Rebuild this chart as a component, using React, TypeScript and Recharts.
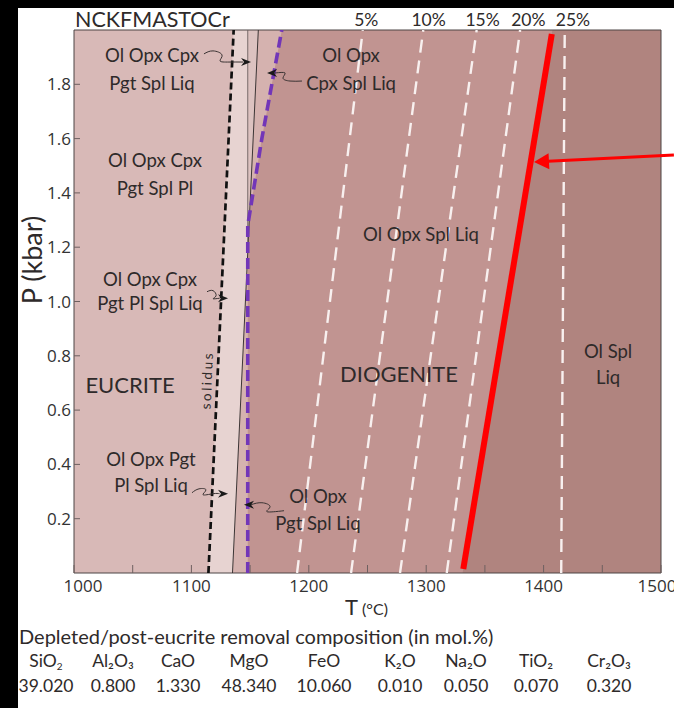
import React from 'react';
import {
  ComposedChart,
  Area,
  Line,
  XAxis,
  YAxis,
  ReferenceArea,
  ReferenceLine,
  ReferenceDot,
} from 'recharts';

type Pt = { p: number; t: number };

// P in kbar, T in °C
const xTicks = [1000, 1050, 1100, 1150, 1200, 1250, 1300, 1350, 1400, 1450, 1500];
const yTicks = [0.2, 0.4, 0.6, 0.8, 1.0, 1.2, 1.4, 1.6, 1.8];

// field boundaries
const plotEdge: Pt[] = [{ p: 0, t: 1500 }, { p: 2, t: 1500 }];
const redEdge: Pt[] = [{ p: 0, t: 1331 }, { p: 2, t: 1407.5 }];
const purpleEdge: Pt[] = [{ p: 0, t: 1148 }, { p: 1.28, t: 1148 }, { p: 1.6, t: 1160 }, { p: 2, t: 1177 }];
const thinEdge: Pt[] = [{ p: 0, t: 1135 }, { p: 2, t: 1157 }];
const lightEdge: Pt[] = [{ p: 0, t: 1135 }, { p: 1.18, t: 1148 }, { p: 2, t: 1148 }];
const solidus: Pt[] = [{ p: 0, t: 1114.5 }, { p: 2, t: 1136 }];
const cpxOut: Pt[] = [{ p: 1.18, t: 1148 }, { p: 2, t: 1148 }];
const redLine: Pt[] = [{ p: 0.015, t: 1331.6 }, { p: 1.985, t: 1407 }];

// melt fraction isopleths
const melt5: Pt[] = [{ p: 0, t: 1190 }, { p: 2, t: 1246 }];
const melt10: Pt[] = [{ p: 0, t: 1236 }, { p: 2, t: 1297.5 }];
const melt15: Pt[] = [{ p: 0, t: 1277.7 }, { p: 2, t: 1343 }];
const melt20: Pt[] = [{ p: 0, t: 1317.5 }, { p: 2, t: 1380 }];
const melt25: Pt[] = [{ p: 0, t: 1415 }, { p: 2, t: 1418 }];
const meltLabels = ['5%', '10%', '15%', '20%', '25%'];
const meltLabelT = [1249, 1302, 1348, 1387, 1425];
const meltLabelP = 2.037;

// leader squiggles
const leader1: Pt[] = [{ p: 1.912, t: 1110.7 }, { p: 1.923, t: 1118.4 }, { p: 1.908, t: 1126.1 }, { p: 1.886, t: 1124.4 }, { p: 1.882, t: 1132 }, { p: 1.882, t: 1144 }];
const leader2: Pt[] = [{ p: 1.812, t: 1194.2 }, { p: 1.812, t: 1184 }, { p: 1.823, t: 1178 }, { p: 1.842, t: 1179.7 }, { p: 1.842, t: 1172 }, { p: 1.842, t: 1169 }];
const leader3: Pt[] = [{ p: 1.036, t: 1113.3 }, { p: 1.04, t: 1118.4 }, { p: 1.021, t: 1121 }, { p: 1.01, t: 1118.4 }, { p: 1.012, t: 1124 }];
const leader4: Pt[] = [{ p: 0.2956, t: 1100.5 }, { p: 0.31, t: 1106.5 }, { p: 0.306, t: 1112.4 }, { p: 0.288, t: 1109.9 }, { p: 0.292, t: 1118.4 }, { p: 0.292, t: 1124 }];
const leader5: Pt[] = [{ p: 0.2515, t: 1150.8 }, { p: 0.2588, t: 1160.1 }, { p: 0.2441, t: 1167 }, { p: 0.2257, t: 1164.4 }, { p: 0.2294, t: 1178.9 }];
const arrowTips = [
  { t: 1150.8, p: 1.882, dir: 1 },
  { t: 1164.4, p: 1.842, dir: -1 },
  { t: 1131.2, p: 1.012, dir: 1 },
  { t: 1131.2, p: 0.292, dir: 1 },
  { t: 1144.8, p: 0.2515, dir: -1 },
];
const redArrowTail = { t: 1511, p: 1.54 };
const redArrowBase = { t: 1403.7, p: 1.517 };
const redArrowTip = { t: 1391.8, p: 1.514 };

const fieldNotes = [
  { lines: ['Ol Opx Cpx', 'Pgt Spl Liq'], t: 1066.4, p: 1.856, gap: 28 },
  { lines: ['Ol Opx', 'Cpx Spl Liq'], t: 1236, p: 1.856, gap: 28 },
  { lines: ['Ol Opx Cpx', 'Pgt Spl Pl'], t: 1069, p: 1.47, gap: 28 },
  { lines: ['Ol Opx Cpx', 'Pgt Pl Spl Liq'], t: 1064.7, p: 1.039, gap: 24 },
  { lines: ['Ol Opx Spl Liq'], t: 1295.6, p: 1.246, gap: 0 },
  { lines: ['Ol Spl', 'Liq'], t: 1454.9, p: 0.767, gap: 26 },
  { lines: ['Ol Opx Pgt', 'Pl Spl Liq'], t: 1065.6, p: 0.371, gap: 26 },
  { lines: ['Ol Opx', 'Pgt Spl Liq'], t: 1207.8, p: 0.231, gap: 27 },
];
const bigNotes = [
  { text: 'EUCRITE', t: 1047.7, p: 0.693 },
  { text: 'DIOGENITE', t: 1276.8, p: 0.734 },
];

const oxides = ['SiO', 'Al₂O₃', 'CaO', 'MgO', 'FeO', 'K₂O', 'Na₂O', 'TiO₂', 'Cr₂O₃'];
const molPercent = ['39.020', '0.800', '1.330', '48.340', '10.060', '0.010', '0.050', '0.070', '0.320'];
const columnX = [46, 113, 178, 249, 324, 400, 466, 536, 609];

const LABEL_FONT = "Lato, 'Noto Sans', sans-serif";
const TICK_FONT = "'Open Sans', 'DejaVu Sans', sans-serif";

const XTick = ({ x, y, payload }: any) => {
  const v = payload.value;
  const shift = v === 1000 ? 9 : v === 1500 ? -4 : 0;
  return (
    <g>
      <line x1={x} x2={x} y1={y} y2={y - 8} stroke="#6e6060" />
      {v % 100 === 0 && (
        <text x={x + shift} y={y + 19} textAnchor="middle" fontFamily={TICK_FONT} fontSize={17} fill="#333">
          {v}
        </text>
      )}
    </g>
  );
};

const YTick = ({ x, y, payload }: any) => (
  <g>
    <line x1={x} x2={x + 6} y1={y} y2={y} stroke="#6e6060" />
    <text x={x - 3} y={y + 6} textAnchor="end" fontFamily={TICK_FONT} fontSize={17} fill="#333">
      {payload.value.toFixed(1)}
    </text>
  </g>
);

const noteShape = (lines: string[], gap: number, size = 18.5) => (props: any) => {
  const { cx, cy } = props;
  const top = cy - ((lines.length - 1) * gap) / 2;
  return (
    <text textAnchor="middle" fontFamily={LABEL_FONT} fontSize={size} fill="#2e2a2a">
      {lines.map((s, i) => (
        <tspan key={i} x={cx} y={top + i * gap + size * 0.36}>
          {s}
        </tspan>
      ))}
    </text>
  );
};

const headShape = (dir: number) => (props: any) => {
  const { cx, cy } = props;
  const b = cx - dir * 10;
  const n = cx - dir * 7;
  return <polygon points={`${cx},${cy} ${b},${cy - 4} ${n},${cy} ${b},${cy + 4}`} fill="#1a1a1a" />;
};

const redHead = (props: any) => {
  const { cx, cy } = props;
  return (
    <polygon
      points={`${cx},${cy} ${cx + 15},${cy - 8} ${cx + 15},${cy + 8}`}
      fill="#ff0000"
      transform={`rotate(-2.9 ${cx} ${cy})`}
    />
  );
};

const solidusShape = (props: any) => {
  const { cx, cy } = props;
  return (
    <text
      x={cx}
      y={cy + 4}
      textAnchor="middle"
      fontFamily={LABEL_FONT}
      fontSize={13.5}
      letterSpacing={2.5}
      fill="#2e2a2a"
      transform={`rotate(-87.6 ${cx} ${cy})`}
    >
      solidus
    </text>
  );
};

const percentShape = (label: string) => (props: any) => (
  <text x={props.cx} y={props.cy + 6} textAnchor="middle" fontFamily={LABEL_FONT} fontSize={17.5} fill="#2e2a2a">
    {label}
  </text>
);

const fill = (data: Pt[], color: string, key: string) => (
  <Area
    key={key}
    data={data}
    dataKey="t"
    type="linear"
    stroke="none"
    fill={color}
    fillOpacity={1}
    isAnimationActive={false}
    dot={false}
    activeDot={false}
  />
);

const line = (data: Pt[], key: string, props: any) => (
  <Line
    key={key}
    data={data}
    dataKey="t"
    type="linear"
    dot={false}
    activeDot={false}
    isAnimationActive={false}
    {...props}
  />
);

const cellStyle = (x: number, top: number): React.CSSProperties => ({
  position: 'absolute',
  left: x,
  top,
  transform: 'translateX(-50%)',
  fontFamily: LABEL_FONT,
  fontSize: 17.5,
  lineHeight: '20px',
  color: '#2e2a2a',
  whiteSpace: 'nowrap',
});

export default function App() {
  return (
    <div style={{ position: 'absolute', left: 0, top: 0, width: 674, height: 708, background: '#fff', overflow: 'hidden' }}>
      <div style={{ position: 'absolute', left: 0, top: 0, width: 674, height: 8, background: '#000' }} />
      <div style={{ position: 'absolute', left: 0, top: 0, width: 18, height: 708, background: '#000' }} />

      <div style={{ position: 'absolute', left: 0, top: 0 }}>
        <ComposedChart
          width={674}
          height={708}
          layout="vertical"
          margin={{ top: 30, right: 13, bottom: 100, left: 0 }}
        >
          {fill(plotEdge, '#b0847f', 'bg')}
          {fill(redEdge, '#c19491', 'dio')}
          {fill(purpleEdge, '#d5b2af', 'band')}
          {fill(thinEdge, '#dcc2c0', 'thin')}
          {fill(lightEdge, '#e7d3d1', 'light')}
          {fill(solidus, '#d8b9b7', 'euc')}

          {line(melt5, 'm5', { stroke: '#f8f0ef', strokeWidth: 2.4, strokeDasharray: '13 8' })}
          {line(melt10, 'm10', { stroke: '#f8f0ef', strokeWidth: 2.4, strokeDasharray: '13 8' })}
          {line(melt15, 'm15', { stroke: '#f8f0ef', strokeWidth: 2.4, strokeDasharray: '13 8' })}
          {line(melt20, 'm20', { stroke: '#f8f0ef', strokeWidth: 2.4, strokeDasharray: '13 8' })}
          {line(melt25, 'm25', { stroke: '#f8f0ef', strokeWidth: 2.4, strokeDasharray: '13 8' })}

          {line(thinEdge, 'thinL', { stroke: '#3c3535', strokeWidth: 1 })}
          {line(cpxOut, 'cpxL', { stroke: '#6a5f5f', strokeWidth: 0.9 })}
          {line(solidus, 'solL', { stroke: '#111', strokeWidth: 2.7, strokeDasharray: '7 4' })}
          {line(purpleEdge, 'purL', { stroke: '#7236b8', strokeWidth: 3.6, strokeDasharray: '11 5' })}
          {line(redLine, 'redL', { stroke: '#ff0000', strokeWidth: 6 })}

          {line(leader1, 'l1', { stroke: '#3a3333', strokeWidth: 1, type: 'natural' })}
          {line(leader2, 'l2', { stroke: '#3a3333', strokeWidth: 1, type: 'natural' })}
          {line(leader3, 'l3', { stroke: '#3a3333', strokeWidth: 1, type: 'natural' })}
          {line(leader4, 'l4', { stroke: '#3a3333', strokeWidth: 1, type: 'natural' })}
          {line(leader5, 'l5', { stroke: '#3a3333', strokeWidth: 1, type: 'natural' })}

          <XAxis
            type="number"
            dataKey="t"
            domain={[1000, 1500]}
            allowDataOverflow
            ticks={xTicks}
            interval={0}
            height={35}
            axisLine={false}
            tickLine={false}
            tickSize={0}
            tickMargin={0}
            tick={<XTick />}
          />
          <YAxis
            type="number"
            dataKey="p"
            domain={[0, 2]}
            reversed
            allowDataOverflow
            ticks={yTicks}
            interval={0}
            width={74}
            axisLine={false}
            tickLine={false}
            tickSize={0}
            tickMargin={0}
            tick={<YTick />}
          />

          <ReferenceArea x1={1000} x2={1500} y1={0} y2={2} fill="none" stroke="#4d4545" strokeWidth={1} />

          <ReferenceLine
            segment={[
              { x: redArrowTail.t, y: redArrowTail.p },
              { x: redArrowBase.t, y: redArrowBase.p },
            ]}
            stroke="#ff0000"
            strokeWidth={3}
            ifOverflow="visible"
          />
          <ReferenceDot x={redArrowTip.t} y={redArrowTip.p} r={1} ifOverflow="visible" shape={redHead} />

          {arrowTips.map((a, i) => (
            <ReferenceDot key={`h${i}`} x={a.t} y={a.p} r={1} shape={headShape(a.dir)} />
          ))}

          {fieldNotes.map((n, i) => (
            <ReferenceDot key={`n${i}`} x={n.t} y={n.p} r={1} shape={noteShape(n.lines, n.gap)} />
          ))}
          {bigNotes.map((n, i) => (
            <ReferenceDot key={`b${i}`} x={n.t} y={n.p} r={1} shape={noteShape([n.text], 0, 22)} />
          ))}
          <ReferenceDot x={1114} y={0.71} r={1} shape={solidusShape} />

          {meltLabels.map((m, i) => (
            <ReferenceDot key={`p${i}`} x={meltLabelT[i]} y={meltLabelP} r={1} ifOverflow="visible" shape={percentShape(m)} />
          ))}
        </ComposedChart>
      </div>

      <div style={{ position: 'absolute', left: 75, top: 6, fontFamily: LABEL_FONT, fontSize: 21.5, color: '#2e2a2a' }}>
        NCKFMASTOCr
      </div>

      <div
        style={{
          position: 'absolute',
          left: 31,
          top: 260,
          transform: 'translate(-50%, -50%) rotate(-90deg)',
          fontFamily: LABEL_FONT,
          fontSize: 27,
          color: '#2e2a2a',
          whiteSpace: 'nowrap',
        }}
      >
        P (kbar)
      </div>

      <div style={{ position: 'absolute', left: 345, top: 593, fontFamily: LABEL_FONT, color: '#2e2a2a', whiteSpace: 'nowrap' }}>
        <span style={{ fontSize: 22 }}>T</span>
        <span style={{ fontSize: 16 }}> (°C)</span>
      </div>

      <div style={{ position: 'absolute', left: 19, top: 624, fontFamily: LABEL_FONT, fontSize: 20, color: '#2e2a2a', whiteSpace: 'nowrap' }}>
        Depleted/post-eucrite removal composition (in mol.%)
      </div>
      {oxides.map((o, i) => (
        <div key={o} style={cellStyle(columnX[i], 651)}>
          {o}
          {i === 0 && <span style={{ fontSize: 10, position: 'relative', top: 3 }}>2</span>}
        </div>
      ))}
      {molPercent.map((v, i) => (
        <div key={`v${i}`} style={cellStyle(columnX[i], 676)}>
          {v}
        </div>
      ))}
    </div>
  );
}
